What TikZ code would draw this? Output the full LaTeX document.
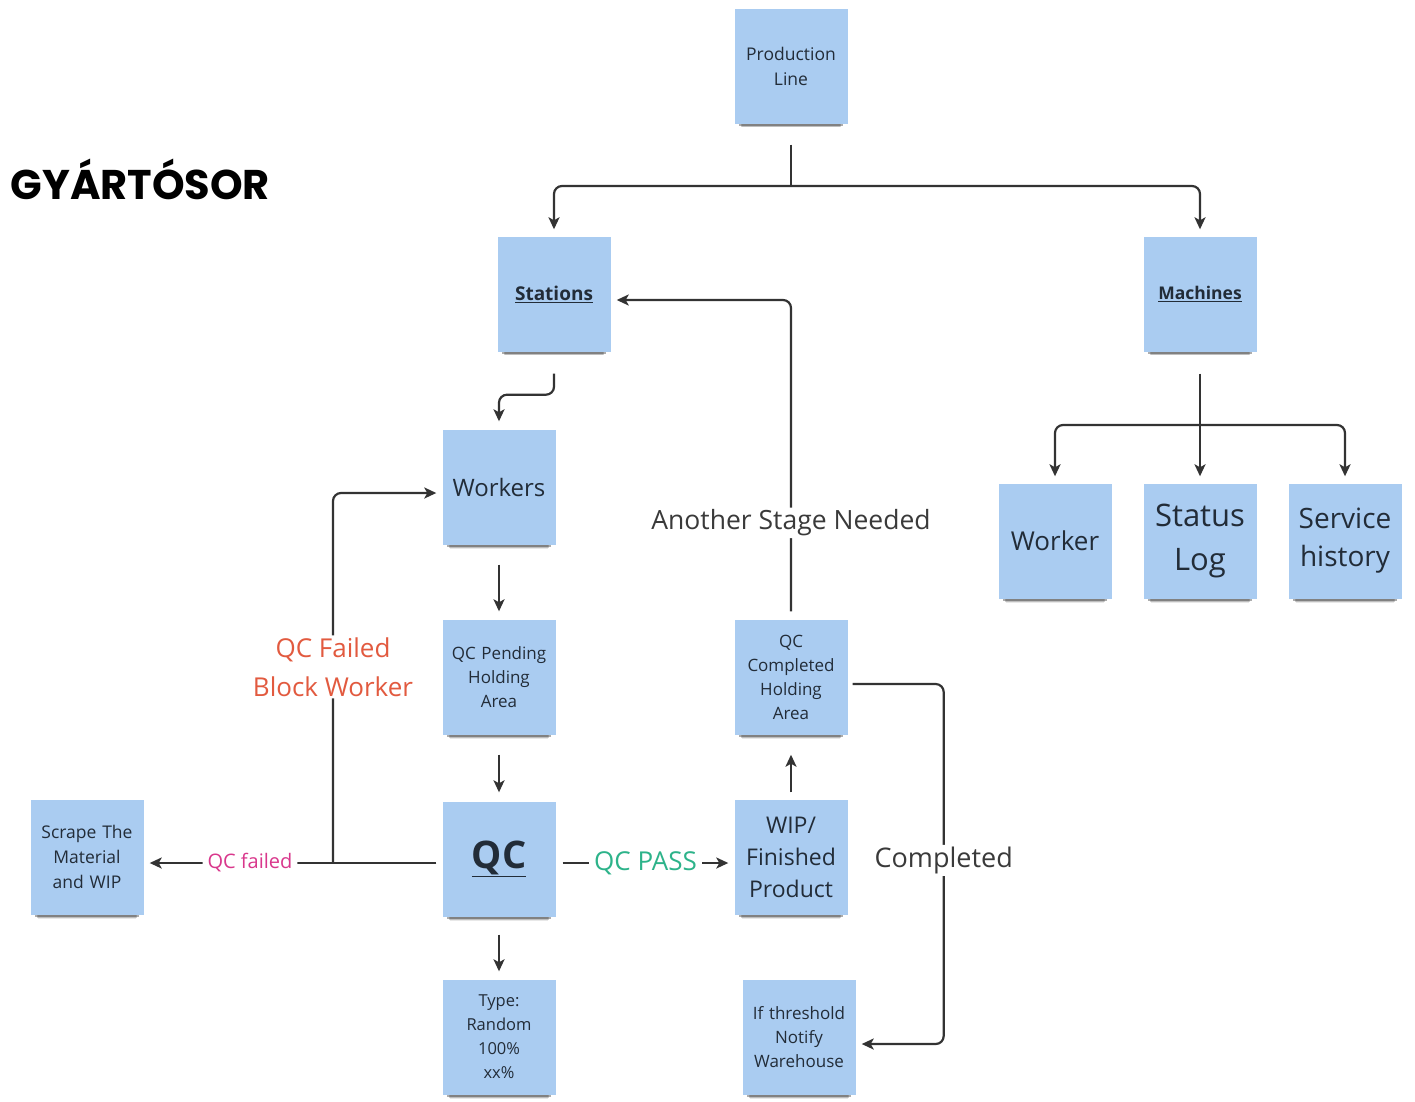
\documentclass[tikz,border=0pt]{standalone}
\usepackage{fontspec}
\setmainfont{Open Sans}
\newfontfamily\titlefont{Poppins}
\usetikzlibrary{arrows.meta,shadows}

\definecolor{notefill}{HTML}{AACCF1}
\definecolor{notetext}{HTML}{222C38}
\definecolor{wire}{HTML}{333333}
\definecolor{failred}{HTML}{E25A3F}
\definecolor{failpink}{HTML}{D9378C}
\definecolor{passgreen}{HTML}{2DB38A}
\definecolor{labelgray}{HTML}{3A3A3A}

\newcommand{\fsz}[2]{\fontsize{#1}{#2}\selectfont}

\begin{document}
\begin{tikzpicture}[x=1pt,y=-1pt,
  note/.style={fill=notefill, minimum width=113pt, minimum height=115pt,
    inner sep=2pt, align=center, text=notetext, text width=108pt,
    general shadow={shadow yshift=-8pt, shadow scale=0.92, fill=black, opacity=0.32},
    general shadow={shadow yshift=-11pt, shadow scale=0.89, fill=black, opacity=0.18},
    general shadow={shadow yshift=-14pt, shadow scale=0.86, fill=black, opacity=0.09}},
  wire/.style={draw=wire, line width=2.2pt, rounded corners=8pt},
  arr/.style={wire, -{Stealth[length=12pt,width=11pt,inset=3pt]}},
  tag/.style={fill=white, inner xsep=5pt, inner ysep=2pt, align=center}]

\useasboundingbox (0,0) rectangle (1415,1101);

% title
\node[anchor=base west, font=\titlefont\bfseries\fsz{41.5}{42}] (title) at (7,199) {GYÁRTÓSOR};

% sticky notes
\node[note, font=\fsz{17.5}{25}] (prod) at (791,66) {Production\\Line};
\node[note, font=\bfseries\fsz{19}{24}] (stations) at (554,294) {\underline{Stations}};
\node[note, font=\bfseries\fsz{17.5}{24}] (machines) at (1200,294) {\underline{Machines}};
\node[note, font=\fsz{24}{30}] (workers) at (499,487) {Workers};
\node[note, font=\fsz{17}{24}] (pending) at (499,677) {QC Pending\\Holding\\Area};
\node[note, font=\bfseries\fsz{38}{40}] (qc) at (499,859) {\underline{QC}};
\node[note, font=\fsz{16.5}{24}] (typ) at (499,1037) {Type:\\Random\\100\%\\xx\%};
\node[note, font=\fsz{17.5}{25}] (scrape) at (87,857) {Scrape The\\Material\\and WIP};
\node[note, font=\fsz{23}{32}] (wip) at (791,857) {WIP/\\Finished\\Product};
\node[note, font=\fsz{17}{24}] (qcc) at (791,677) {QC\\Completed\\Holding\\Area};
\node[note, font=\fsz{17}{24}] (thresh) at (799,1037) {If threshold\\Notify\\Warehouse};
\node[note, font=\fsz{26}{32}] (worker) at (1055,541) {Worker};
\node[note, font=\fsz{31}{44}] (status) at (1200,541) {Status\\Log};
\node[note, font=\fsz{28}{38}] (service) at (1345,541) {Service\\history};

% junction points
\coordinate (jtop) at (791,186);
\coordinate (jfail) at (333,863);
\coordinate (jm) at (1200,425);

% production line branches
\draw[wire] ([yshift=-21pt]prod.south) -- (jtop);
\draw[arr] (jtop) -| ([yshift=7pt]stations.north);
\draw[arr] (jtop) -| ([yshift=7pt]machines.north);

% station flow
\draw[arr] ([yshift=-22pt]stations.south) -- ++(0,21) -| ([yshift=8pt]workers.north);
\draw[arr] ([yshift=-20pt]workers.south) -- ([yshift=8pt]pending.north);
\draw[arr] ([yshift=-20pt]pending.south) -- ([yshift=9pt]qc.north);
\draw[arr] ([yshift=-18pt]qc.south) -- ([yshift=8pt]typ.north);

% QC failure paths
\draw[arr] ([xshift=-6pt,yshift=-4pt]qc.west) --
  node[tag, pos=0.65, text=failpink, font=\fsz{20}{24}] {QC failed}
  ([xshift=6pt,yshift=-6pt]scrape.east);
\draw[arr] (jfail) |-
  node[tag, pos=0.265, text=failred, font=\fsz{26}{39}] {QC Failed\\Block Worker}
  ([xshift=-6pt,yshift=-6pt]workers.west);

% QC pass path
\draw[arr] ([xshift=7pt,yshift=-4pt]qc.east) --
  node[tag, text=passgreen, font=\fsz{26}{30}] {QC PASS}
  ([xshift=-6pt,yshift=-6pt]wip.west);
\draw[arr] ([yshift=7pt]wip.north) -- ([yshift=-20pt]qcc.south);

% completed holding area outputs
\draw[arr] ([yshift=8pt]qcc.north) |-
  node[tag, pos=0.142, text=labelgray, font=\fsz{26.5}{30}] {Another Stage Needed}
  ([xshift=6pt,yshift=-6pt]stations.east);
\draw[arr] ([xshift=5pt,yshift=-7pt]qcc.east) -- ++(91,0) |-
  node[tag, pos=0.245, text=labelgray, font=\fsz{27}{30}] {Completed}
  ([xshift=6pt,yshift=-7pt]thresh.east);

% machine branches
\draw[arr] ([yshift=-22pt]machines.south) -- ([yshift=7pt]status.north);
\draw[arr] (jm) -| ([yshift=7pt]worker.north);
\draw[arr] (jm) -| ([yshift=7pt]service.north);

\end{tikzpicture}
\end{document}
